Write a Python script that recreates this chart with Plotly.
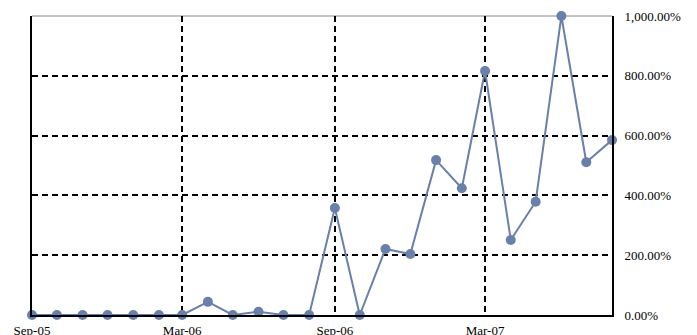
import plotly.graph_objects as go

# Monthly observations, Sep 2005 - Aug 2007
months = [
    "2005-09-01", "2005-10-01", "2005-11-01", "2005-12-01", "2006-01-01", "2006-02-01",
    "2006-03-01", "2006-04-01", "2006-05-01", "2006-06-01", "2006-07-01", "2006-08-01",
    "2006-09-01", "2006-10-01", "2006-11-01", "2006-12-01", "2007-01-01", "2007-02-01",
    "2007-03-01", "2007-04-01", "2007-05-01", "2007-06-01", "2007-07-01", "2007-08-01",
]
pct_values = [
    0, 0, 0, 0, 0, 0,
    0, 44, 0, 11, 0, 0,
    358, 0, 221, 204, 518, 424,
    816, 251, 379, 1000, 511, 585,
]

x_tick_vals = ["2005-09-01", "2006-03-01", "2006-09-01", "2007-03-01"]
x_tick_text = ["Sep-05", "Mar-06", "Sep-06", "Mar-07"]
y_tick_vals = [0, 200, 400, 600, 800, 1000]
y_tick_text = [f"{v:,.2f}%" for v in y_tick_vals]

line_color = "#6880AA"
font = dict(family="Liberation Serif", size=13, color="black")

fig = go.Figure()
fig.add_trace(go.Scatter(
    x=months, y=pct_values, mode="lines+markers",
    line=dict(color=line_color, width=2),
    marker=dict(color=line_color, size=10),
    cliponaxis=False, showlegend=False,
))

fig.update_layout(
    width=697, height=335,
    margin=dict(l=32, r=85, t=16, b=20),
    paper_bgcolor="white", plot_bgcolor="white",
    font=font,
    xaxis=dict(
        type="date",
        range=["2005-09-01", "2007-08-01"],
        tickmode="array", tickvals=x_tick_vals, ticktext=x_tick_text,
        showgrid=True, gridcolor="black", gridwidth=1.5, griddash="6px,4px",
        showline=True, linecolor="black", linewidth=2,
        ticks="", ticklabelstandoff=2, zeroline=False, tickfont=font,
        automargin=False,
    ),
    yaxis=dict(
        side="right",
        range=[0, 1000],
        tickmode="array", tickvals=y_tick_vals, ticktext=y_tick_text,
        showgrid=True, gridcolor="black", gridwidth=1.5, griddash="6px,4px",
        showline=True, mirror=True, linecolor="black", linewidth=2,
        ticks="", ticklabelstandoff=8, zeroline=False, tickfont=font,
        automargin=False,
    ),
    shapes=[dict(type="line", xref="paper", yref="paper", x0=0, x1=1, y0=1, y1=1,
                 line=dict(color="#888888", width=1), layer="below")],
)

fig.write_html("out.html")
